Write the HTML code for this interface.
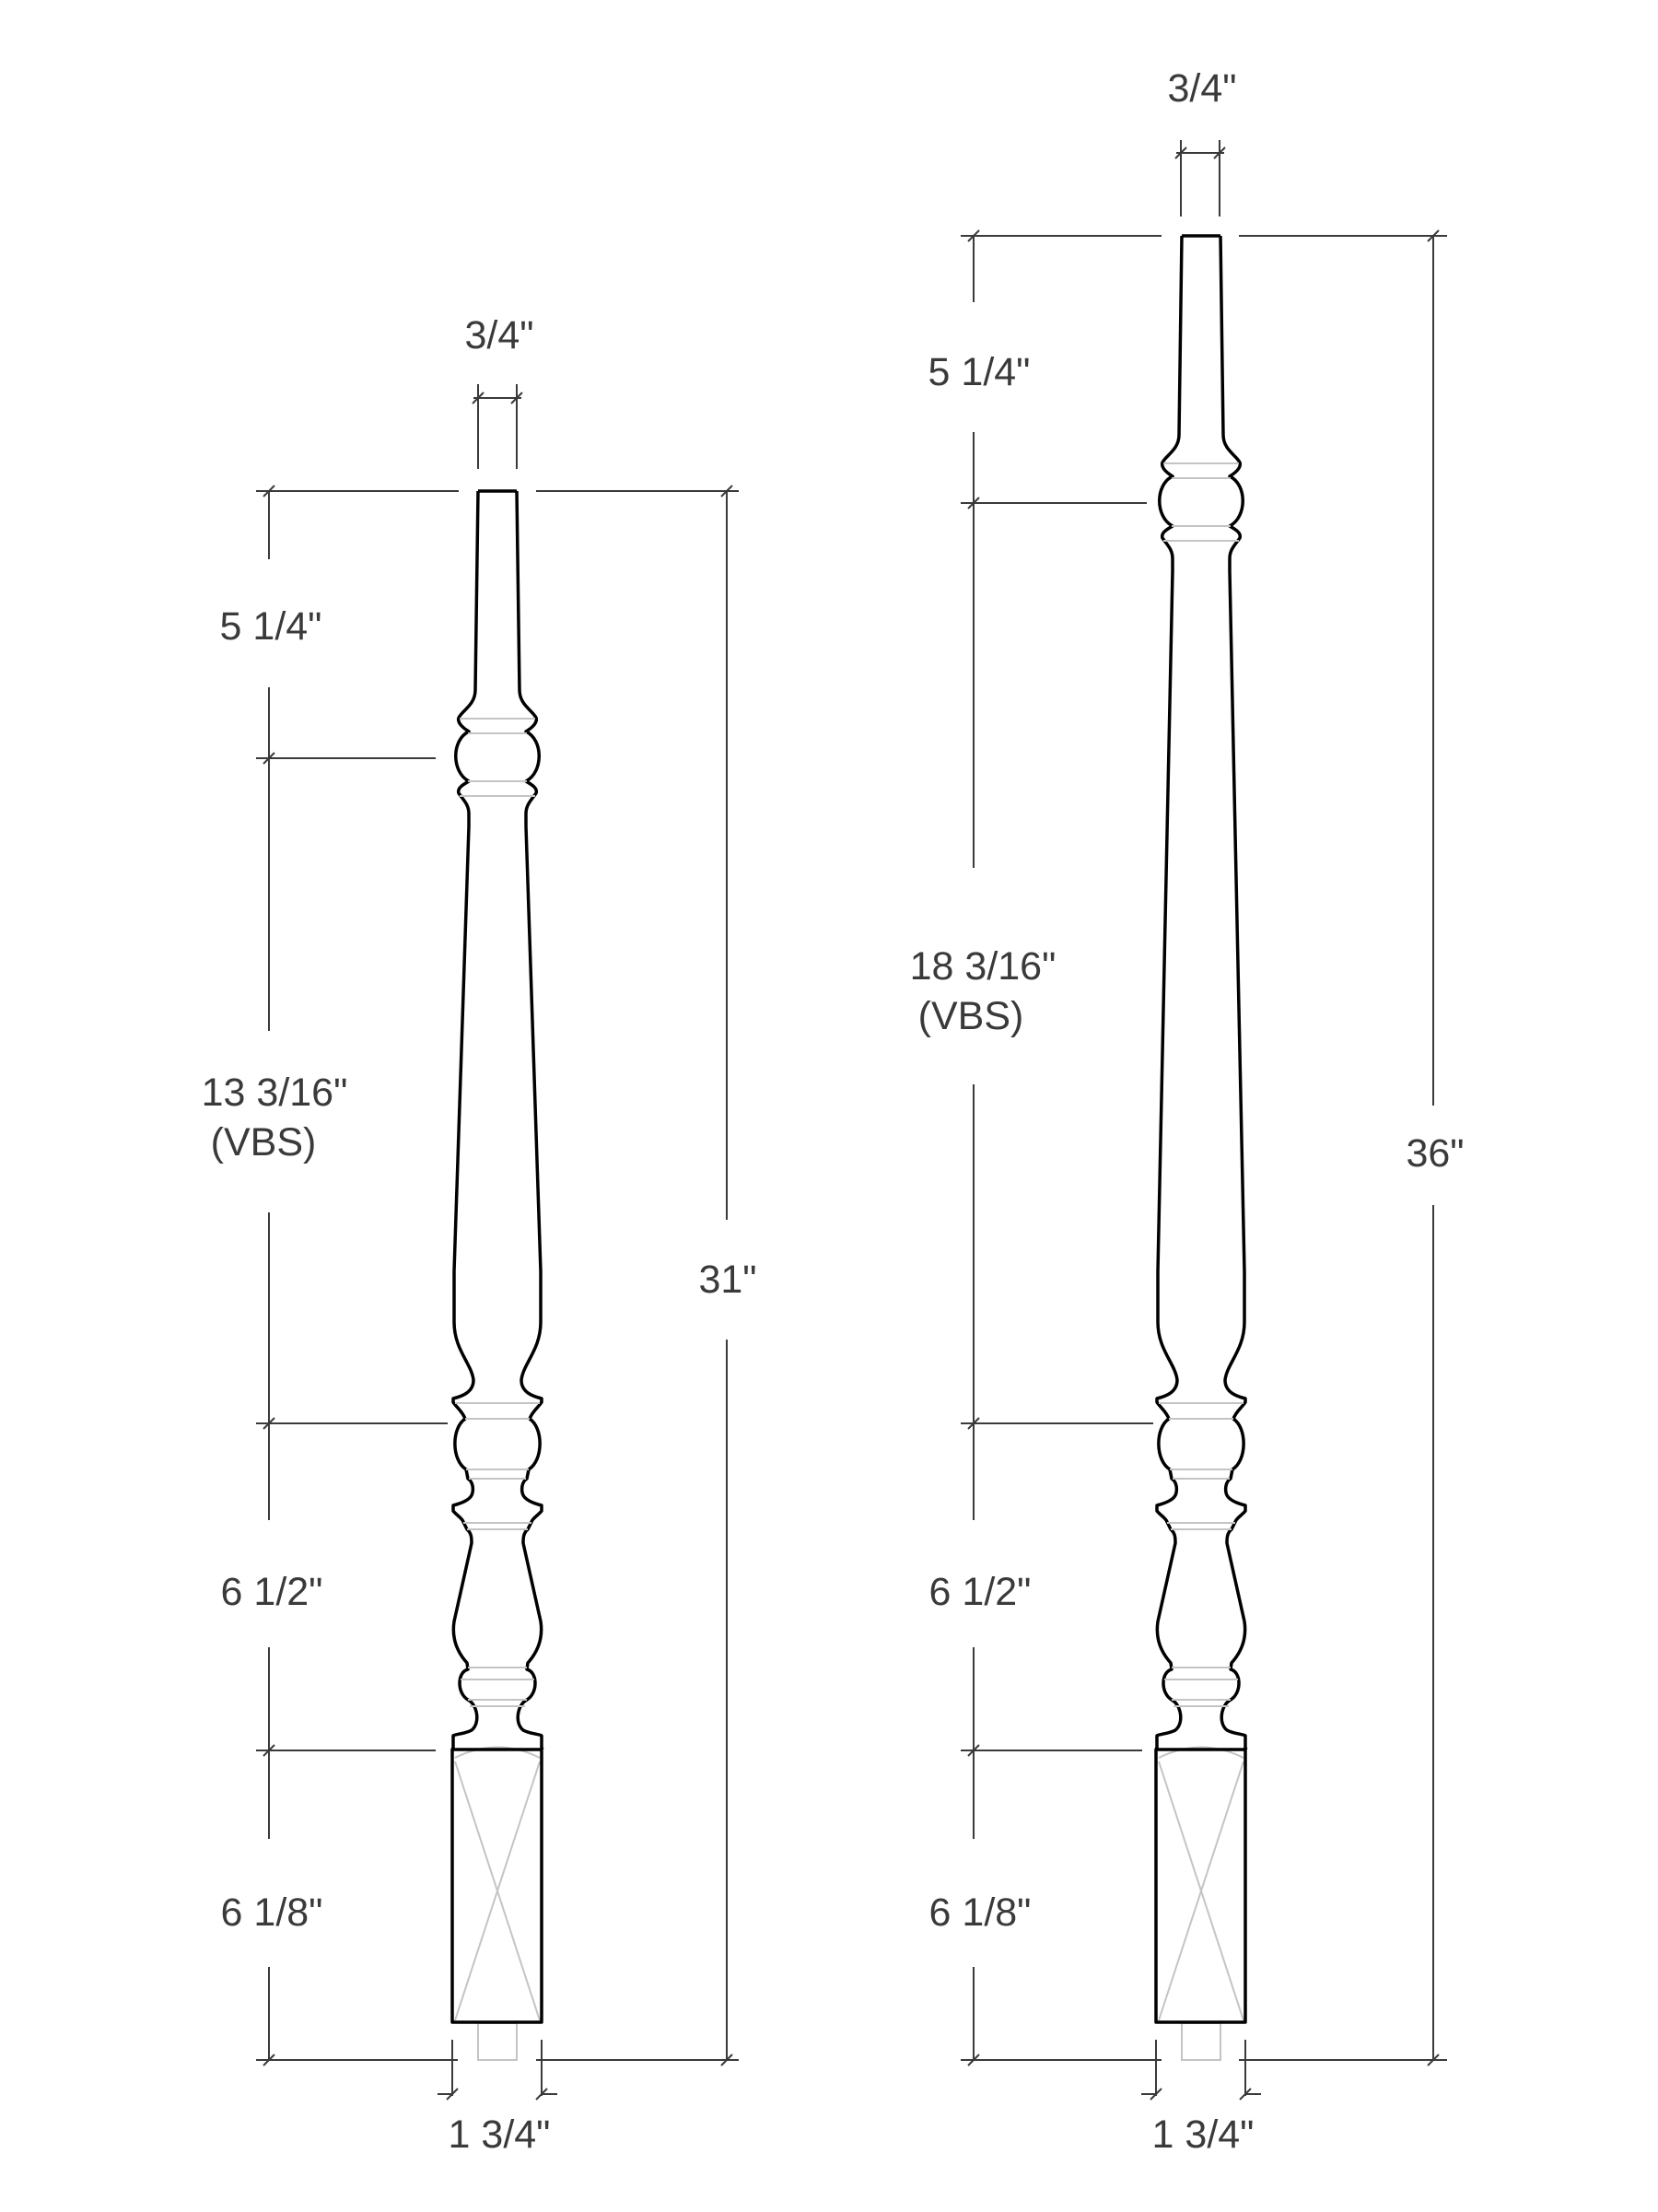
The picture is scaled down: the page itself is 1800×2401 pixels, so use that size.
<!DOCTYPE html>
<html><head><meta charset="utf-8"><style>
html,body{margin:0;padding:0;background:#fff}
svg{display:block}
text{font-family:"Liberation Sans",sans-serif;font-size:43px;fill:#3a3a3a;text-anchor:middle}
.d{stroke:#3a3a3a;stroke-width:2;fill:none}
.o{stroke:#000;stroke-width:3.5;fill:none;stroke-linejoin:round}
.g{stroke:#c4c4c4;stroke-width:2;fill:none}
</style></head><body>
<svg width="1800" height="2401" viewBox="0 0 1800 2401" xmlns="http://www.w3.org/2000/svg">
<defs>
<path id="top" d="M -21 0 L -24 216 C -24 232, -38 238, -42 246 C -44 252, -36 258, -31 261 C -50 270, -50 305, -31 315 C -36 318, -44 322, -42 328 C -38 334, -31 340, -31 350 L -31 364"/>
<path id="bot" d="M -47 1380 L -47 1435 C -47 1465, -28 1480, -26 1498 C -26 1512, -40 1516, -48 1518 L -48 1522 C -44 1528, -38 1532, -35 1540 C -50 1550, -50 1585, -34 1595 L -32 1605 C -27 1608, -26 1615, -27 1620 C -28 1628, -40 1632, -48 1634 L -48 1640 C -44 1645, -38 1648, -37 1652 L -33 1660 C -28 1664, -28 1670, -28 1675 L -47 1760 C -50 1780, -42 1795, -33 1805 L -32 1812 C -44 1815, -44 1838, -32 1845 C -22 1850, -18 1870, -28 1878 C -35 1882, -45 1882, -48 1884 L -48 1897 L -49 1899"/>
<g id="bottomparts">
<use href="#bot" class="o"/><use href="#bot" class="o" transform="scale(-1,1)"/>
<g class="g">
<line x1="-46" y1="1523" x2="46" y2="1523"/><line x1="-35" y1="1540" x2="35" y2="1540"/>
<line x1="-34" y1="1595" x2="34" y2="1595"/><line x1="-31" y1="1605" x2="31" y2="1605"/>
<line x1="-37" y1="1653" x2="37" y2="1653"/><line x1="-33" y1="1660" x2="33" y2="1660"/>
<line x1="-32" y1="1810" x2="32" y2="1810"/><line x1="-40" y1="1823" x2="40" y2="1823"/>
<line x1="-32" y1="1845" x2="32" y2="1845"/><line x1="-30" y1="1852" x2="30" y2="1852"/>
<path d="M -46 1908 Q 0 1885 46 1908"/>
<line x1="-46" y1="1912" x2="46" y2="2193"/><line x1="46" y1="1912" x2="-46" y2="2193"/>
<rect x="-21" y="2196" width="42" height="40"/>
</g>
<rect x="-49" y="1899" width="97" height="296" class="o"/>
</g>
<g id="topparts">
<use href="#top" class="o"/><use href="#top" class="o" transform="scale(-1,1)"/>
<line x1="-21" y1="0" x2="21" y2="0" class="o"/>
<g class="g">
<line x1="-41" y1="247" x2="41" y2="247"/><line x1="-32" y1="263" x2="32" y2="263"/>
<line x1="-32" y1="315" x2="32" y2="315"/><line x1="-41" y1="331" x2="41" y2="331"/>
</g>
</g>
</defs>

<!-- LEFT SPINDLE -->
<g transform="translate(540,0)">
<use href="#bottomparts"/>
<g transform="translate(0,533)"><use href="#topparts"/></g>
<line x1="-31" y1="897" x2="-47" y2="1380" class="o"/><line x1="31" y1="897" x2="47" y2="1380" class="o"/>
</g>
<!-- RIGHT SPINDLE -->
<g transform="translate(1304,0)">
<use href="#bottomparts"/>
<g transform="translate(0,256)"><use href="#topparts"/></g>
<line x1="-31" y1="620" x2="-47" y2="1380" class="o"/><line x1="31" y1="620" x2="47" y2="1380" class="o"/>
</g>

<!-- LEFT DIMENSIONS -->
<g class="d">
<line x1="278" y1="533" x2="498" y2="533"/><line x1="582" y1="533" x2="802" y2="533"/>
<line x1="278" y1="823" x2="473" y2="823"/>
<line x1="278" y1="1545" x2="486" y2="1545"/>
<line x1="278" y1="1900" x2="473" y2="1900"/>
<line x1="278" y1="2236" x2="497" y2="2236"/><line x1="582" y1="2236" x2="802" y2="2236"/>
<path d="M292 533V607M292 746V1119M292 1316V1650M292 1788V1996M292 2135V2236"/>
<path d="M789 533V1324M789 1454V2236"/>
<path d="M286 539l12-12M286 829l12-12M286 1551l12-12M286 1906l12-12M286 2242l12-12M783 539l12-12M783 2242l12-12"/>
<path d="M519 417V509M561 417V509M514 432H566M513 438l12-12M555 438l12-12"/>
<path d="M491 2214V2275M588 2214V2275M475 2273H491M588 2273H605M485 2279l12-12M582 2279l12-12"/>
</g>
<!-- RIGHT DIMENSIONS -->
<g class="d">
<line x1="1043" y1="256" x2="1261" y2="256"/><line x1="1345" y1="256" x2="1571" y2="256"/>
<line x1="1043" y1="546" x2="1245" y2="546"/>
<line x1="1043" y1="1545" x2="1252" y2="1545"/>
<line x1="1043" y1="1900" x2="1240" y2="1900"/>
<line x1="1043" y1="2236" x2="1261" y2="2236"/><line x1="1345" y1="2236" x2="1571" y2="2236"/>
<path d="M1057 256V328M1057 469V942M1057 1177V1650M1057 1788V1996M1057 2135V2236"/>
<path d="M1556 256V1200M1556 1308V2236"/>
<path d="M1051 262l12-12M1051 552l12-12M1051 1551l12-12M1051 1906l12-12M1051 2242l12-12M1550 262l12-12M1550 2242l12-12"/>
<path d="M1282 152V235M1324 152V235M1277 166H1329M1276 172l12-12M1318 172l12-12"/>
<path d="M1255 2214V2275M1352 2214V2275M1239 2273H1255M1352 2273H1369M1249 2279l12-12M1346 2279l12-12"/>
</g>

<!-- LABELS -->
<text x="542" y="378">3/4"</text>
<text x="294" y="694">5 1/4"</text>
<text x="298" y="1200">13 3/16"</text>
<text x="286" y="1254">(VBS)</text>
<text x="790" y="1403">31"</text>
<text x="295" y="1742">6 1/2"</text>
<text x="295" y="2090">6 1/8"</text>
<text x="542" y="2331">1 3/4"</text>

<text x="1305" y="110">3/4"</text>
<text x="1063" y="418">5 1/4"</text>
<text x="1067" y="1063">18 3/16"</text>
<text x="1054" y="1117">(VBS)</text>
<text x="1558" y="1266">36"</text>
<text x="1064" y="1742">6 1/2"</text>
<text x="1064" y="2090">6 1/8"</text>
<text x="1306" y="2331">1 3/4"</text>
</svg>
</body></html>
